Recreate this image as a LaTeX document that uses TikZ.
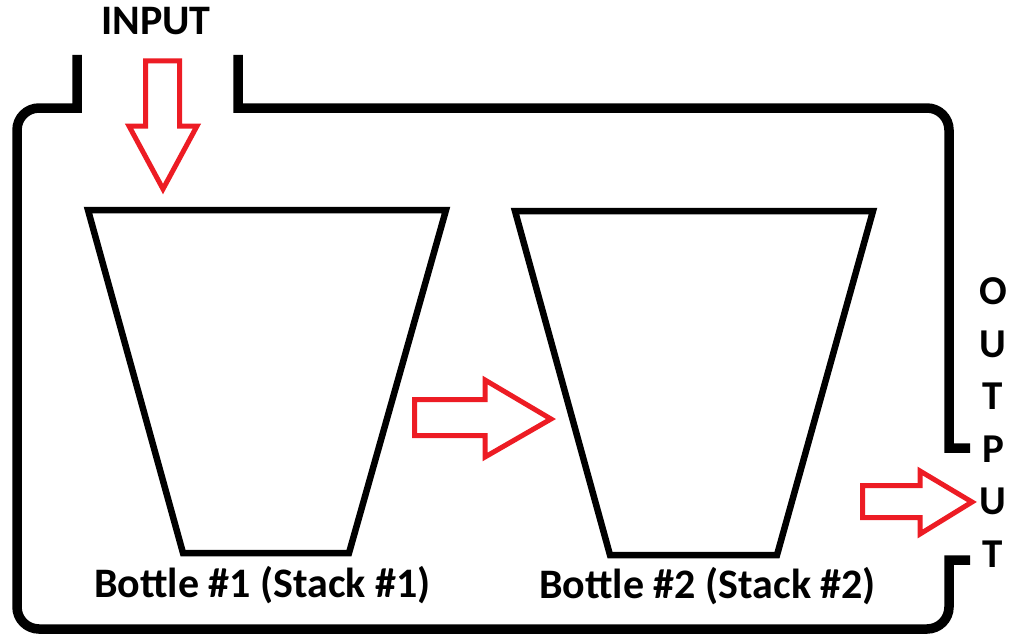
\documentclass[tikz,border=0pt]{standalone}
\usepackage{fontspec}
\setmainfont{Carlito}
\begin{document}
\begin{tikzpicture}[x=1pt,y=-1pt,
  wall/.style={line width=9.5pt,line join=miter},
  bottle/.style={line width=6.5pt,line join=miter},
  flow/.style={draw={rgb,255:red,237;green,28;blue,36},line width=5pt,line join=miter,fill=white},
  lbl/.style={font=\fontsize{42}{44}\selectfont\bfseries,inner sep=0pt,anchor=base},
  letter/.style={font=\fontsize{41}{44}\selectfont\bfseries,inner sep=0pt,anchor=base}]
\useasboundingbox (0,0) rectangle (1009,634);

% tank outline with inlet and outlet gaps
\draw[wall] (77,55) -- (77,108) [rounded corners=22pt] -- (17,108) -- (17,629) -- (949,629) [sharp corners] -- (949,560) -- (970,560);
\draw[wall] (238,55) -- (238,108) [rounded corners=22pt] -- (949,108) [sharp corners] -- (949,448) -- (970,448);

% the two bottles
\draw[bottle] (88,210) -- (446,210) -- (349,553) -- (183,553) -- cycle;
\draw[bottle] (515,211) -- (873,211) -- (777,555) -- (610,555) -- cycle;

% flow arrows
\draw[flow] (145.5,61) -- (179.5,61) -- (179.5,126) -- (197,126) -- (163,189) -- (129,126) -- (145.5,126) -- cycle;
\draw[flow] (414.5,399.5) -- (485,399.5) -- (485,380) -- (551,419) -- (485,457) -- (485,435.5) -- (414.5,435.5) -- cycle;
\draw[flow] (862.5,485.5) -- (920,485.5) -- (920,471) -- (972,502) -- (920,534) -- (920,517.5) -- (862.5,517.5) -- cycle;

% labels
\node[lbl] (input) at (156,35) {INPUT};
\node[lbl] (b1) at (262.5,597) {Bottle \#1 (Stack \#1)};
\node[lbl] (b2) at (707.5,598) {Bottle \#2 (Stack \#2)};

\node[letter] (o1) at (993,304.5) {O};
\node[letter] (o2) at (993,357) {U};
\node[letter] (o3) at (993,409.5) {T};
\node[letter] (o4) at (993,462) {P};
\node[letter] (o5) at (993,514.5) {U};
\node[letter] (o6) at (993,567) {T};
\end{tikzpicture}
\end{document}
